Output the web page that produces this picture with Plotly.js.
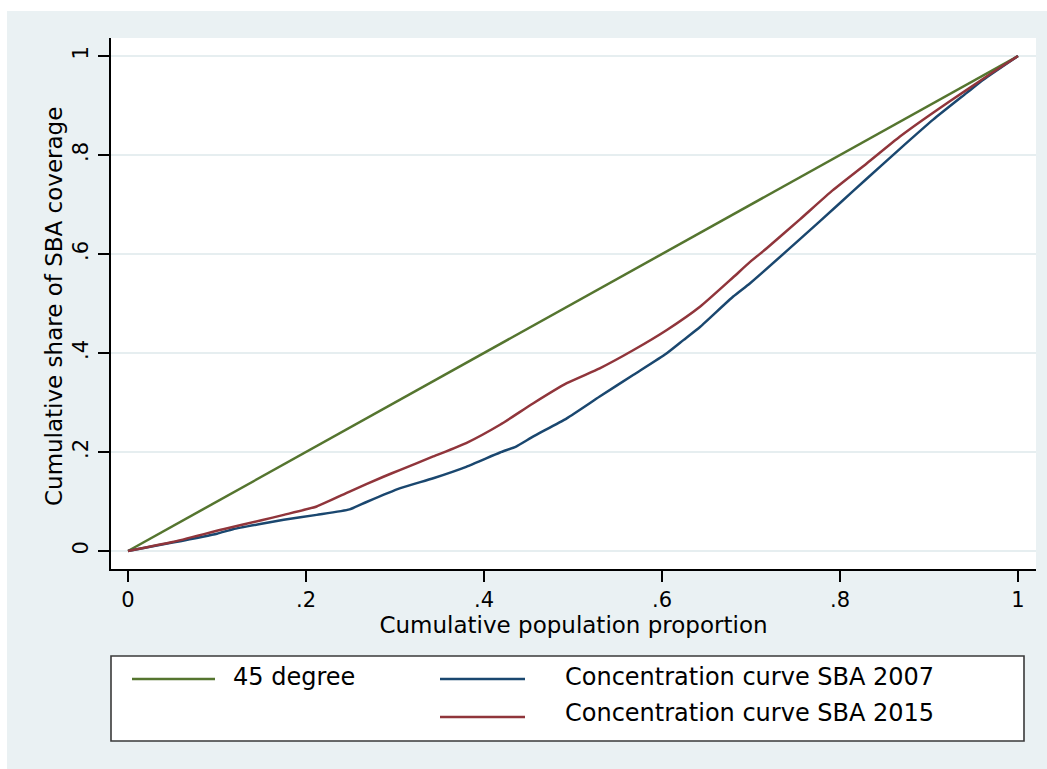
<!DOCTYPE html>
<html>
<head>
<meta charset="utf-8">
<script src="https://cdn.plot.ly/plotly-3.0.1.min.js"></script>
<style>
  html, body { margin: 0; padding: 0; background: #ffffff; width: 1047px; height: 769px; overflow: hidden; }
  #chart { position: absolute; left: 7px; top: 11px; width: 1040px; height: 758px; }
</style>
</head>
<body>
<div id="chart"></div>
<script>
// ---- data ----
const seriesNames = ["45 degree", "Concentration curve SBA 2007", "Concentration curve SBA 2015"];
const xTitle = "Cumulative population proportion";
const yTitle = "Cumulative share of SBA coverage";

const diagX = [0, 1];
const diagY = [0, 1];

const pop2007 = [0, 0.05, 0.10, 0.118, 0.15, 0.175, 0.212, 0.249, 0.268, 0.306, 0.343, 0.380, 0.418, 0.436, 0.455, 0.493, 0.530, 0.568, 0.605, 0.624, 0.643, 0.680, 0.699, 0.755, 0.800, 0.830, 0.867, 0.905, 0.942, 0.961, 1.0];
const sba2007 = [0, 0.017, 0.035, 0.044, 0.055, 0.063, 0.073, 0.084, 0.099, 0.127, 0.147, 0.170, 0.199, 0.211, 0.231, 0.268, 0.312, 0.356, 0.399, 0.426, 0.453, 0.514, 0.541, 0.630, 0.703, 0.752, 0.812, 0.872, 0.925, 0.952, 1.0];

const pop2015 = [0, 0.05, 0.107, 0.15, 0.175, 0.212, 0.249, 0.287, 0.306, 0.343, 0.380, 0.418, 0.455, 0.493, 0.530, 0.568, 0.605, 0.643, 0.680, 0.699, 0.718, 0.755, 0.792, 0.830, 0.867, 0.905, 0.942, 0.970, 1.0];
const sba2015 = [0, 0.018, 0.044, 0.062, 0.073, 0.090, 0.120, 0.150, 0.164, 0.191, 0.218, 0.255, 0.298, 0.339, 0.369, 0.406, 0.446, 0.494, 0.553, 0.584, 0.612, 0.670, 0.729, 0.783, 0.837, 0.886, 0.931, 0.965, 1.0];

const xTickVals = [0, 0.2, 0.4, 0.6, 0.8, 1];
const xTickText = ["0", ".2", ".4", ".6", ".8", "1"];
const yTickVals = [0, 0.2, 0.4, 0.6, 0.8, 1];
const yTickText = ["0", ".2", ".4", ".6", ".8", "1"];

// ---- styles ----
const colors = ["#55752f", "#1a476f", "#90353b"];
const FONT = "DejaVu Sans, Liberation Sans, Arial, sans-serif";
const W = 1040, H = 758;
const M = { l: 104, r: 11, t: 27, b: 200 };
const plotW = W - M.l - M.r, plotH = H - M.t - M.b;
const px2x = (px) => (px - M.l) / plotW;
const px2y = (py) => (H - M.b - py) / plotH;

const traces = [
  { x: diagX, y: diagY, name: seriesNames[0], mode: "lines", line: { color: colors[0], width: 2.5 }, showlegend: false },
  { x: pop2007, y: sba2007, name: seriesNames[1], mode: "lines", line: { color: colors[1], width: 2.5, shape: "spline", smoothing: 0.5 }, showlegend: false },
  { x: pop2015, y: sba2015, name: seriesNames[2], mode: "lines", line: { color: colors[2], width: 2.5, shape: "spline", smoothing: 0.5 }, showlegend: false }
];

// custom Stata-style legend (div pixel coordinates)
const legBox = { x0: 104, x1: 1017, y0: 645, y1: 730 };
const legItems = [
  { lx0: 125, lx1: 208, ly: 668, tx: 224, ty: 666 },
  { lx0: 433, lx1: 518, ly: 668, tx: 556, ty: 666 },
  { lx0: 433, lx1: 518, ly: 706, tx: 556, ty: 702 }
];

const shapes = [
  { type: "rect", xref: "paper", yref: "paper",
    x0: px2x(legBox.x0), x1: px2x(legBox.x1), y0: px2y(legBox.y1), y1: px2y(legBox.y0),
    fillcolor: "#ffffff", line: { color: "#3a3a3a", width: 1.6 }, layer: "above" }
];
const annotations = [];
legItems.forEach((it, i) => {
  shapes.push({ type: "line", xref: "paper", yref: "paper",
    x0: px2x(it.lx0), x1: px2x(it.lx1), y0: px2y(it.ly), y1: px2y(it.ly),
    line: { color: colors[i], width: 2.5 }, layer: "above" });
  annotations.push({ xref: "paper", yref: "paper", x: px2x(it.tx), y: px2y(it.ty),
    xanchor: "left", yanchor: "middle", showarrow: false, text: seriesNames[i],
    font: { family: FONT, size: 24, color: "#000000" } });
});
// y-axis title as rotated annotation for exact placement
annotations.push({ xref: "paper", yref: "paper", x: px2x(47), y: px2y(296),
  xanchor: "center", yanchor: "middle", textangle: -90, showarrow: false, text: yTitle,
  font: { family: FONT, size: 23, color: "#000000" } });

const layout = {
  width: W, height: H,
  margin: M,
  paper_bgcolor: "#eaf1f3",
  plot_bgcolor: "#ffffff",
  showlegend: false,
  xaxis: {
    range: [-17 / 890, 1 + 18 / 890],
    tickvals: xTickVals, ticktext: xTickText,
    ticks: "outside", ticklen: 11, tickwidth: 1.5, tickcolor: "#000000",
    showline: true, linecolor: "#000000", linewidth: 1.6,
    showgrid: false, zeroline: false,
    tickfont: { family: FONT, size: 21, color: "#000000" },
    title: { text: xTitle, font: { family: FONT, size: 23, color: "#000000" }, standoff: 2 }
  },
  yaxis: {
    range: [-18 / 495, 1 + 18 / 495],
    tickvals: yTickVals, ticktext: yTickText, tickangle: -90,
    ticks: "outside", ticklen: 11, tickwidth: 1.5, tickcolor: "#000000",
    ticklabelstandoff: 2,
    showline: true, linecolor: "#000000", linewidth: 1.6,
    showgrid: true, gridcolor: "#e6eef0", gridwidth: 2, zeroline: false,
    tickfont: { family: FONT, size: 21, color: "#000000" }
  },
  shapes: shapes,
  annotations: annotations
};

Plotly.newPlot("chart", traces, layout, { displayModeBar: false, staticPlot: true });
</script>
</body>
</html>
